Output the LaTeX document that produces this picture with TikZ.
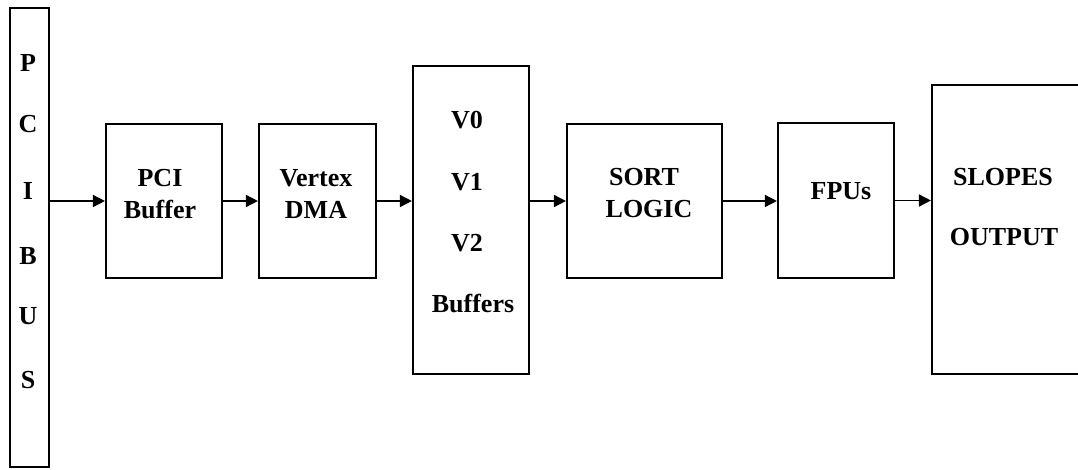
\documentclass[tikz,border=0pt]{standalone}
\usepackage{fontspec}
\setmainfont{Liberation Serif}
\usetikzlibrary{arrows.meta}
\begin{document}
\begin{tikzpicture}[x=0.75pt,y=-0.75pt,
  blk/.style={draw,line width=1.6pt,rectangle,inner sep=0pt},
  lbl/.style={anchor=base,inner sep=0pt,font=\fontsize{19.5}{22}\selectfont\bfseries},
  conn/.style={line width=1.2pt,-{Triangle[length=9pt,width=9pt]}}]
\useasboundingbox (0,0) rectangle (1078,470);
\clip (0,0) rectangle (1078,470);
% boxes
\node[blk,minimum width=29.25pt,minimum height=344.25pt] (bus) at (29.5,237.5) {};
\node[blk,minimum width=87pt,minimum height=115.5pt] (pci) at (164,201) {};
\node[blk,minimum width=87.75pt,minimum height=115.5pt] (dma) at (317.5,201) {};
\node[blk,minimum width=87pt,minimum height=231pt] (vbuf) at (471,220) {};
\node[blk,minimum width=116.25pt,minimum height=115.5pt] (sort) at (644.5,201) {};
\node[blk,minimum width=87pt,minimum height=116.25pt] (fpu) at (836,200.5) {};
\node[blk,minimum width=127.5pt,minimum height=216.75pt] (slopes) at (1017,229.5) {};
% texts
\node[lbl] (tp) at (28,72) {P};
\node[lbl] (tc) at (28,133) {C};
\node[lbl] (ti) at (28,200) {I};
\node[lbl] (tb) at (28,265) {B};
\node[lbl] (tu) at (28,325) {U};
\node[lbl] (ts) at (28,388) {S};
\node[lbl] (t1) at (160,187) {PCI};
\node[lbl] (t2) at (160,219) {Buffer};
\node[lbl] (t3) at (316,187) {Vertex};
\node[lbl] (t4) at (316,219) {DMA};
\node[lbl] (t5) at (467,129) {V0};
\node[lbl] (t6) at (467,191) {V1};
\node[lbl] (t7) at (467,252) {V2};
\node[lbl] (t8) at (473,313) {Buffers};
\node[lbl] (t9) at (644,186) {SORT};
\node[lbl] (t10) at (649,218) {LOGIC};
\node[lbl] (t11) at (841,200) {FPUs};
\node[lbl] (t12) at (1003,186) {SLOPES};
\node[lbl] (t13) at (1004,246) {OUTPUT};
% connectors
\draw[conn] (bus.east |- pci.west) -- (pci.west);
\draw[conn] (pci.east) -- (dma.west);
\draw[conn] (dma.east) -- (dma.east -| vbuf.west);
\draw[conn] (vbuf.east |- sort.west) -- (sort.west);
\draw[conn] (sort.east) -- (sort.east -| fpu.west);
\draw[conn] (fpu.east) -- (fpu.east -| slopes.west);
\end{tikzpicture}
\end{document}
